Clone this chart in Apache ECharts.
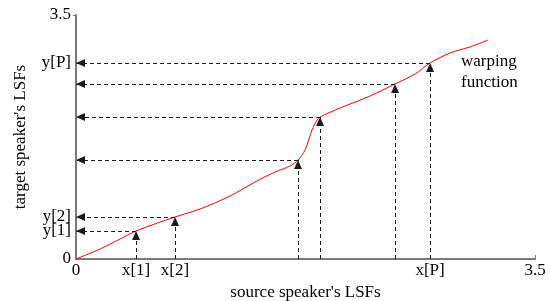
<!DOCTYPE html>
<html>
<head>
<meta charset="utf-8">
<script src="https://cdn.jsdelivr.net/npm/echarts@6/dist/echarts.min.js"></script>
<style>
  html, body { margin: 0; padding: 0; background: #fff; }
  #warpChart { width: 550px; height: 301px; }
</style>
</head>
<body>
<div id="warpChart"></div>
<script>
// warping function curve (source LSF -> target LSF)
var curveX = [0, 0.183, 0.336, 0.458, 0.755, 0.946, 1.175, 1.365, 1.518, 1.632, 1.693, 1.747, 1.800, 1.838, 1.861, 2.014, 2.243, 2.433, 2.586, 2.700, 2.853, 3.005, 3.143];
var curveY = [0, 0.143, 0.287, 0.402, 0.603, 0.717, 0.904, 1.105, 1.248, 1.334, 1.420, 1.564, 1.851, 1.994, 2.037, 2.166, 2.339, 2.511, 2.654, 2.812, 2.956, 3.042, 3.142];

// points that get the dashed arrows
var pointX = [0.458, 0.755, 1.693, 1.861, 2.433, 2.700];
var pointY = [0.402, 0.603, 1.420, 2.037, 2.511, 2.812];

// tick labels
var xTickValues = [0, 0.458, 0.755, 2.700, 3.5];
var xTickLabels = ['0', 'x[1]', 'x[2]', 'x[P]', '3.5'];
var yTickValues = [0, 0.402, 0.603, 2.812, 3.5];
var yTickLabels = ['0', 'y[1]', 'y[2]', 'y[P]', '3.5'];

var serif = '"Liberation Serif", "DejaVu Serif", serif';

function labelFor(values, labels) {
    return function (v) {
        for (var i = 0; i < values.length; i++) {
            if (Math.abs(values[i] - v) < 1e-6) return labels[i];
        }
        return '';
    };
}

var chart = echarts.init(document.getElementById('warpChart'));

// vertical arrow up to the curve, then horizontal arrow back to the y axis
var arrowLines = [];
for (var i = 0; i < pointX.length; i++) {
    arrowLines.push([{ coord: [pointX[i], 0] }, { coord: [pointX[i], pointY[i]] }]);
    arrowLines.push([{ coord: [pointX[i], pointY[i]] }, { coord: [0, pointY[i]] }]);
}

var axisLine = { lineStyle: { color: '#7a7a7a', width: 2 } };

var option = {
    animation: false,
    grid: { left: 76, right: 15, top: 15, bottom: 42, outerBoundsMode: 'none', containLabel: false },
    xAxis: {
        type: 'value',
        min: 0,
        max: 3.5,
        name: "source speaker's LSFs",
        nameLocation: 'middle',
        nameGap: 21,
        nameTextStyle: { fontFamily: serif, fontSize: 17, color: '#000' },
        axisLine: axisLine,
        splitLine: { show: false },
        axisTick: { show: true, inside: true, length: 4, customValues: [3.5], lineStyle: { color: '#7a7a7a' } },
        axisLabel: {
            customValues: xTickValues,
            formatter: labelFor(xTickValues, xTickLabels),
            fontFamily: serif, fontSize: 17, color: '#000', margin: 3
        }
    },
    yAxis: {
        type: 'value',
        min: 0,
        max: 3.5,
        name: "target speaker's LSFs",
        nameLocation: 'middle',
        nameGap: 47,
        nameTextStyle: { fontFamily: serif, fontSize: 17, color: '#000' },
        axisLine: axisLine,
        splitLine: { show: false },
        axisTick: { show: true, length: 3, customValues: [3.5], lineStyle: { color: '#7a7a7a' } },
        axisLabel: {
            customValues: yTickValues,
            formatter: labelFor(yTickValues, yTickLabels),
            fontFamily: serif, fontSize: 17, color: '#000', margin: 5
        }
    },
    graphic: [{
        type: 'text',
        left: 461,
        top: 51,
        style: { text: 'warping\nfunction', font: '17px ' + serif, fill: '#000', lineHeight: 21 }
    }],
    series: [{
        type: 'line',
        data: curveX.map(function (x, k) { return [x, curveY[k]]; }),
        showSymbol: false,
        smooth: 0.3,
        lineStyle: { color: '#ff0000', width: 1 },
        markLine: {
            silent: true,
            symbol: ['none', 'triangle'],
            symbolSize: [8, 9],
            symbolOffset: [0, [0, 4.5]],
            label: { show: false },
            lineStyle: { color: '#1a1a1a', type: [4, 3], width: 1 },
            itemStyle: { color: '#000' },
            emphasis: { disabled: true },
            data: arrowLines
        }
    }]
};

chart.setOption(option);
</script>
</body>
</html>
